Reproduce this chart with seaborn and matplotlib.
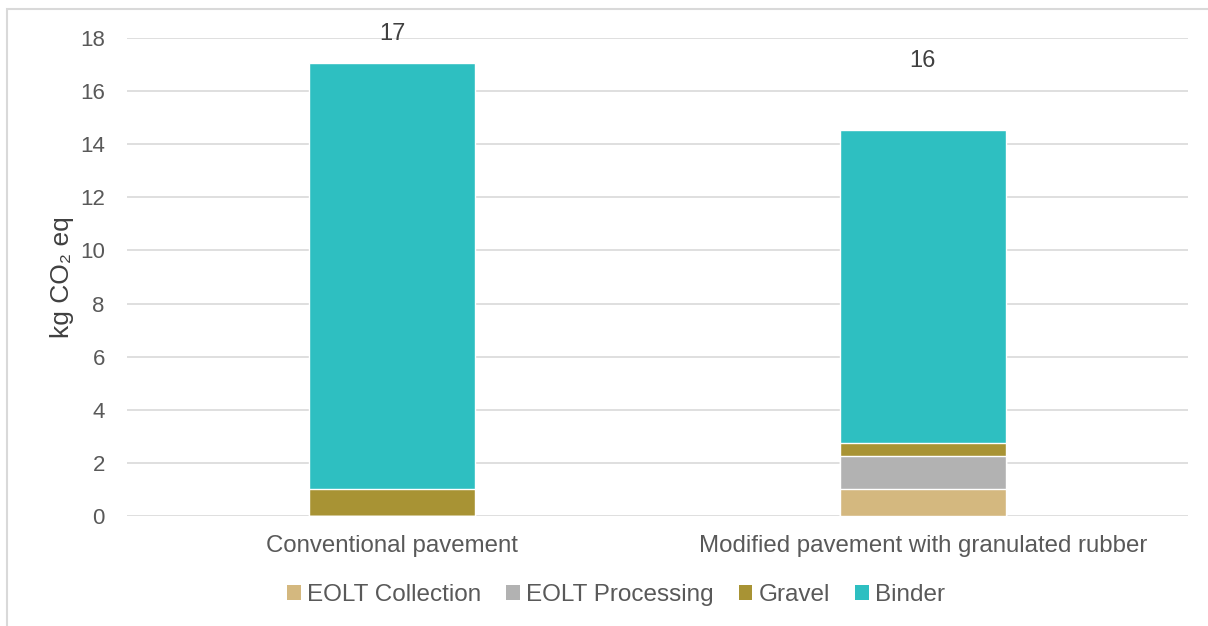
import matplotlib
matplotlib.use("Agg")
import matplotlib.pyplot as plt
from matplotlib.patches import Rectangle, Patch
import numpy as np
import pandas as pd
import seaborn as sns

categories = ["Conventional pavement", "Modified pavement with granulated rubber"]
stages = ["EOLT Collection", "EOLT Processing", "Gravel", "Binder"]
eolt_collection = [0.0, 1.0]
eolt_processing = [0.0, 1.25]
gravel = [1.0, 0.5]
binder = [16.05, 11.8]
total_labels = [17, 16]
yticks = [0, 2, 4, 6, 8, 10, 12, 14, 16, 18]

colors = {"EOLT Collection": "#d4b87f", "EOLT Processing": "#b2b2b2",
          "Gravel": "#a89334", "Binder": "#2ebfc1"}
text_color = "#595959"

sns.set_theme(style="white")
plt.rcParams["font.family"] = ["Liberation Sans", "DejaVu Sans"]

layers = np.array([eolt_collection, eolt_processing, gravel, binder])
cumulative = np.cumsum(layers, axis=0)

fig = plt.figure(figsize=(12.08, 6.26), dpi=100)
ax = fig.add_axes([127 / 1208, 1 - 516 / 626, (1188 - 127) / 1208, (516 - 38) / 626])

# Stack by drawing the cumulative heights from the top layer down
for i in range(len(stages) - 1, -1, -1):
    df = pd.DataFrame({"category": categories, "value": cumulative[i]})
    sns.barplot(data=df, x="category", y="value", color=colors[stages[i]],
                width=0.313, saturation=1, ax=ax, zorder=3)

for j, lab in enumerate(total_labels):
    ax.text(j, lab + 1.15, str(lab), ha="center", va="center",
            fontsize=17, color="#404040")

ax.set_ylim(0, 18)
ax.set_xlim(-0.5, 1.5)
ax.set_yticks(yticks)
ax.yaxis.grid(True, color="#dcdcdc", linewidth=1.3, zorder=0)
ax.set_axisbelow(True)
for s in ax.spines.values():
    s.set_visible(False)
ax.tick_params(axis="both", length=0, colors=text_color)
ax.tick_params(axis="y", pad=16, labelsize=16)
ax.tick_params(axis="x", pad=14, labelsize=17.3)
ax.set_xlabel("")
ax.set_ylabel("kg CO₂ eq", fontsize=19, color="#404040", labelpad=4)

handles = [Patch(facecolor=colors[s], edgecolor="none") for s in stages]
fig.legend(handles, stages, loc="center", bbox_to_anchor=(616 / 1208, 1 - 595 / 626),
           ncol=4, frameon=False, fontsize=17.5, labelcolor=text_color,
           handlelength=0.55, handleheight=0.55, handletextpad=0.25, columnspacing=1.05)

fig.patches.append(Rectangle((7 / 1208, -0.05), 1.1, 1 - 9 / 626 + 0.05,
                             transform=fig.transFigure, fill=False,
                             edgecolor="#d9d9d9", linewidth=1.5))

fig.savefig("out.png", dpi=100)
